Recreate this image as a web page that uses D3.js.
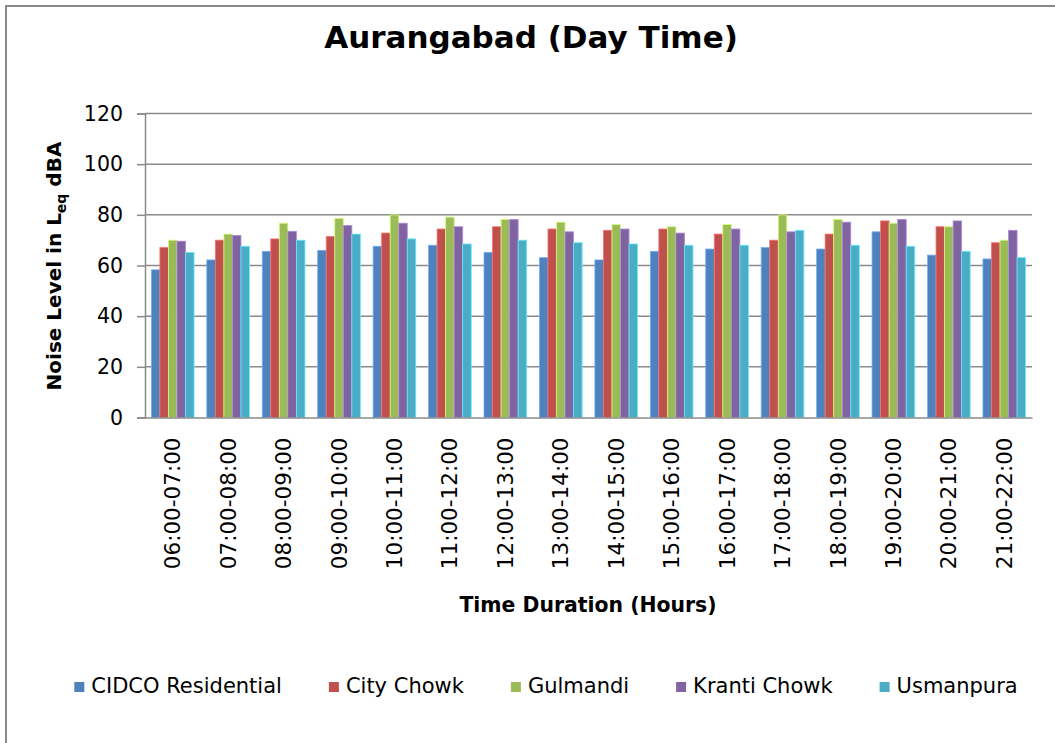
<!DOCTYPE html>
<html>
<head>
<meta charset="utf-8">
<script src="https://cdn.jsdelivr.net/npm/d3@7"></script>
<style>
  body { margin: 0; background: #fff; }
  text { font-family: "DejaVu Sans", Verdana, sans-serif; fill: #000; }
</style>
</head>
<body>
<div id="chart"></div>
<script>
// hourly slots
var slots = ['06:00-07:00','07:00-08:00','08:00-09:00','09:00-10:00','10:00-11:00','11:00-12:00',
  '12:00-13:00','13:00-14:00','14:00-15:00','15:00-16:00','16:00-17:00','17:00-18:00',
  '18:00-19:00','19:00-20:00','20:00-21:00','21:00-22:00'];

// Leq dBA per site
var cidco     = [58.3, 62.2, 65.6, 66.0, 67.6, 68.0, 65.2, 63.1, 62.2, 65.6, 66.5, 67.1, 66.5, 73.3, 64.1, 62.6];
var cityChowk = [67.1, 70.0, 70.5, 71.4, 72.8, 74.4, 75.3, 74.4, 73.9, 74.4, 72.4, 70.0, 72.4, 77.6, 75.3, 69.0];
var gulmandi  = [70.0, 72.4, 76.7, 78.6, 80.0, 79.1, 78.2, 77.1, 76.2, 75.3, 76.2, 80.0, 78.2, 76.7, 75.3, 70.0];
var kranti    = [69.6, 71.9, 73.5, 75.8, 76.7, 75.3, 78.2, 73.3, 74.4, 72.8, 74.4, 73.3, 77.1, 78.2, 77.6, 73.9];
var usmanpura = [65.2, 67.6, 70.0, 72.4, 70.5, 68.5, 70.0, 69.0, 68.5, 68.0, 68.0, 73.9, 68.0, 67.6, 65.6, 63.1];

var siteNames = ['CIDCO Residential','City Chowk','Gulmandi','Kranti Chowk','Usmanpura'];
var yTicks = [0, 20, 40, 60, 80, 100, 120];

var series = [cidco, cityChowk, gulmandi, kranti, usmanpura];
var colors = ['#4F81BD','#C0504D','#9BBB59','#8064A2','#4BACC6'];

var width = 1055, height = 743;
var svg = d3.select('#chart').append('svg').attr('width', width).attr('height', height);

// outer chart border
svg.append('rect').attr('x', 6).attr('y', 6).attr('width', width + 10).attr('height', height + 10)
  .attr('fill', 'none').attr('stroke', '#888').attr('stroke-width', 2);

var x0 = d3.scaleBand().domain(slots).range([145, 1032]).paddingInner(0.23).paddingOuter(0.115);
var x1 = d3.scaleBand().domain(d3.range(series.length)).range([0, x0.bandwidth()]);
var y = d3.scaleLinear().domain([0, 120]).range([417.5, 113.5]);

// gridlines
svg.append('g').selectAll('line').data(yTicks.slice(1)).enter().append('line')
  .attr('x1', 145).attr('x2', 1032)
  .attr('y1', d => y(d)).attr('y2', d => y(d))
  .attr('stroke', '#8a8a8a').attr('stroke-width', 1.5);

// bars
var groups = svg.append('g').selectAll('g').data(slots).enter().append('g')
  .attr('transform', d => `translate(${x0(d)},0)`);

groups.selectAll('rect').data((d, i) => series.map((s, k) => ({k: k, v: s[i]}))).enter().append('rect')
  .attr('x', d => x1(d.k))
  .attr('width', x1.bandwidth())
  .attr('y', d => y(d.v))
  .attr('height', d => y(0) - y(d.v))
  .attr('fill', d => colors[d.k])
  .attr('stroke', d => d3.color(colors[d.k]).brighter(0.9))
  .attr('stroke-width', 0.8);

// y axis
var yAxis = svg.append('g').attr('transform', 'translate(145,0)')
  .call(d3.axisLeft(y).tickValues(yTicks).tickSize(8).tickPadding(14).tickFormat(d3.format('d')));
yAxis.select('.domain').attr('stroke', '#8a8a8a').attr('stroke-width', 1.5);
yAxis.selectAll('line').attr('stroke', '#8a8a8a').attr('stroke-width', 1.5);
yAxis.selectAll('text').style('font-size', '20.5px').style('font-family', '"DejaVu Sans", Verdana, sans-serif');

// x axis
var xAxis = svg.append('g').attr('transform', `translate(0,${y(0)})`)
  .call(d3.axisBottom(x0).tickSize(0).tickPadding(0));
xAxis.select('.domain').attr('stroke', '#8a8a8a').attr('stroke-width', 1.5);
xAxis.selectAll('text')
  .style('font-size', '21.5px').style('font-family', '"DejaVu Sans", Verdana, sans-serif')
  .attr('text-anchor', 'end')
  .attr('transform', 'rotate(-90)')
  .attr('x', -20).attr('y', 0).attr('dy', '0.35em');

// titles
svg.append('text').attr('x', 531).attr('y', 48).attr('text-anchor', 'middle')
  .style('font-size', '31px').style('font-weight', 'bold').text('Aurangabad (Day Time)');

svg.append('text').attr('x', 588).attr('y', 612).attr('text-anchor', 'middle')
  .style('font-size', '20.4px').style('font-weight', 'bold').text('Time Duration (Hours)');

var ytitle = svg.append('text').attr('transform', 'translate(61,266)rotate(-90)').attr('text-anchor', 'middle')
  .style('font-size', '20px').style('font-weight', 'bold');
ytitle.append('tspan').text('Noise Level in L');
ytitle.append('tspan').attr('dy', 5).style('font-size', '14px').text('eq');
ytitle.append('tspan').attr('dy', -5).text(' dBA');

// legend
var legend = svg.append('g');
var items = legend.selectAll('g').data(siteNames).enter().append('g');
items.append('rect').attr('width', 10).attr('height', 10).attr('y', -11)
  .attr('fill', (d, i) => colors[i]);
items.append('text').attr('x', 17).style('font-size', '21px').text(d => d);
var gap = 47, pos = 0;
items.each(function () {
  d3.select(this).attr('transform', `translate(${pos},0)`);
  pos += 17 + d3.select(this).select('text').node().getComputedTextLength() + gap;
});
var total = pos - gap;
legend.attr('transform', `translate(${546 - total / 2},693)`);
</script>
</body>
</html>
